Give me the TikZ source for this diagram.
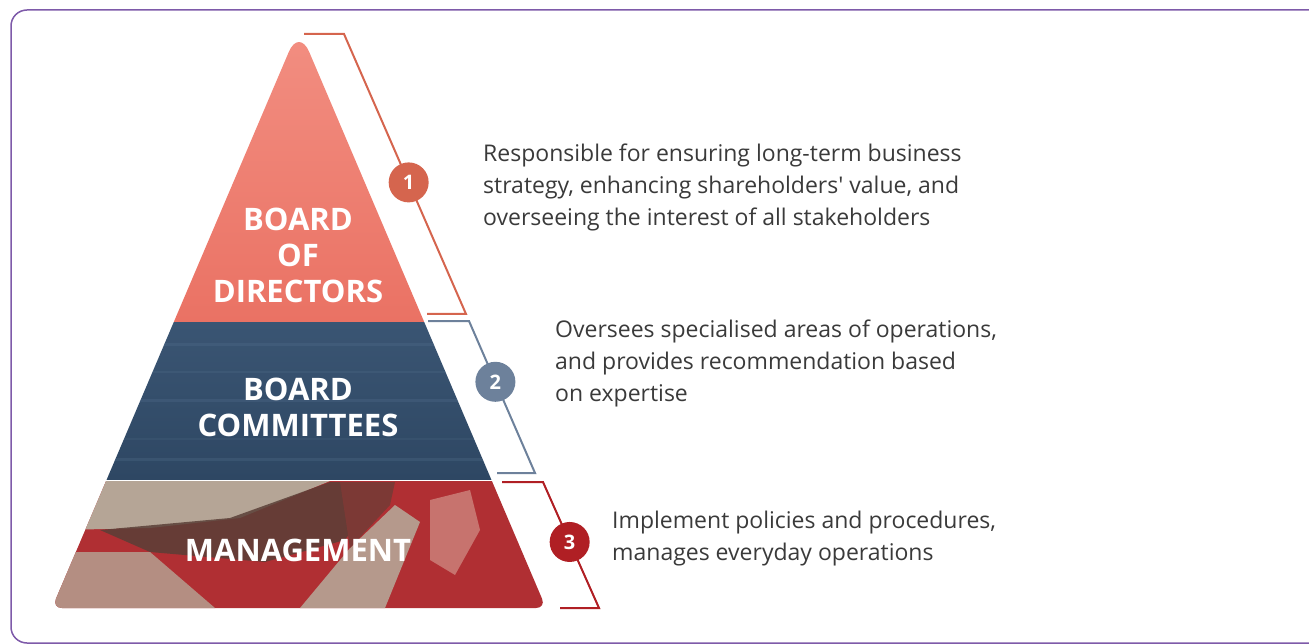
\documentclass[tikz,border=0pt]{standalone}
\usepackage{fontspec}
\setmainfont{Open Sans}
\newfontfamily\notefont{Open Sans}
\usetikzlibrary{positioning}

\definecolor{framepurple}{HTML}{7E5AA9}
\definecolor{bodtop}{HTML}{F39184}
\definecolor{bodbot}{HTML}{EA7264}
\definecolor{comtop}{HTML}{3A5573}
\definecolor{combot}{HTML}{2E4763}
\definecolor{comlight}{HTML}{5A7594}
\definecolor{mgtred}{HTML}{B02F33}
\definecolor{mgtbeige}{HTML}{B5A596}
\definecolor{mgtdark}{HTML}{5A3F37}
\definecolor{mgtpink}{HTML}{D29088}
\definecolor{onecol}{HTML}{D5654E}
\definecolor{twocol}{HTML}{6D819B}
\definecolor{threecol}{HTML}{B01F24}
\definecolor{notegrey}{HTML}{3A3A3A}

\tikzset{
  tier/.style={text=white, font=\fontsize{31}{36}\selectfont\bfseries, align=center, inner sep=0pt},
  badge/.style={circle, minimum size=40pt, inner sep=0pt, text=white, font=\fontsize{20}{20}\selectfont\bfseries},
  bracket/.style={line width=2pt},
  note/.style={text=notegrey, font=\notefont\fontsize{23}{32}\selectfont, align=left, anchor=west, inner sep=0pt},
}

\begin{document}
\begin{tikzpicture}[x=1pt,y=-1pt]
\useasboundingbox (0,0) rectangle (1309,644);

% outer frame
\begin{scope}
  \clip (0,0) rectangle (1309,644);
  \draw[framepurple, line width=1.5pt, rounded corners=16] (11,10) rectangle (1340,643);
\end{scope}

% pyramid
\begin{scope}
  \clip (299,608) [rounded corners=10] -- (52,608) [rounded corners=26] -- (299,28) [rounded corners=10] -- (546,608) -- cycle;
  \shade[top color=bodtop, bottom color=bodbot] (0,0) rectangle (600,321);
  \shade[top color=comtop, bottom color=combot] (0,322.5) rectangle (600,479);
  \fill[comlight, opacity=0.25] (0,343) rectangle (600,346);
  \fill[comlight, opacity=0.2] (0,371) rectangle (600,373);
  \fill[comlight, opacity=0.25] (0,399) rectangle (600,402);
  \fill[comlight, opacity=0.15] (0,438) rectangle (600,440);
  \fill[comlight, opacity=0.25] (0,458) rectangle (600,461);
  \fill[mgtred] (0,480.5) rectangle (600,620);
  \fill[mgtbeige] (60,481) -- (330,481) -- (240,518) -- (150,528) -- (60,530) -- cycle;
  \fill[mgtdark, opacity=0.85] (100,530) -- (230,518) -- (330,482) -- (385,482) -- (345,540) -- (265,562) -- (150,552) -- cycle;
  \fill[mgtbeige!80!mgtred] (40,552) -- (150,552) -- (215,608) -- (40,608) -- cycle;
  \fill[mgtbeige!90!mgtred] (300,608) -- (350,548) -- (395,505) -- (420,522) -- (385,608) -- cycle;
  \fill[mgtdark!60!mgtred] (340,482) -- (395,482) -- (390,505) -- (350,548) -- cycle;
  \fill[mgtpink, opacity=0.7] (430,500) -- (470,490) -- (480,530) -- (455,575) -- (430,560) -- cycle;
\end{scope}

% tier labels
\node[tier] (bod) at (298,255) {BOARD\\OF\\DIRECTORS};
\node[tier] (com) at (298,407) {BOARD\\COMMITTEES};
\node[tier] (mgt) at (298,550) {MANAGEMENT};

% brackets
\coordinate (b1a) at (304,34);
\coordinate (b1b) at (344,34);
\coordinate (b1c) at (466,314);
\coordinate (b1d) at (427,314);
\coordinate (b2a) at (428,321);
\coordinate (b2b) at (469,321);
\coordinate (b2c) at (535,473);
\coordinate (b2d) at (497,473);
\coordinate (b3a) at (502,482);
\coordinate (b3b) at (543,482);
\coordinate (b3c) at (599,608);
\coordinate (b3d) at (560,608);
\draw[bracket, onecol] (b1a) -- (b1b) -- (b1c) -- (b1d);
\draw[bracket, twocol] (b2a) -- (b2b) -- (b2c) -- (b2d);
\draw[bracket, threecol] (b3a) -- (b3b) -- (b3c) -- (b3d);
\path (b1b) -- (b1c) node[badge, fill=onecol, pos=0.53] (n1) {1};
\path (b2b) -- (b2c) node[badge, fill=twocol, pos=0.40] (n2) {2};
\path (b3b) -- (b3c) node[badge, fill=threecol, pos=0.476] (n3) {3};

% descriptions
\node[note] (d1) at (483,187) {Responsible for ensuring long-term business\\strategy, enhancing shareholders' value, and\\overseeing the interest of all stakeholders};
\node[note] (d2) at (555,363) {Oversees specialised areas of operations,\\and provides recommendation based\\on expertise};
\node[note] (d3) at (612,539) {Implement policies and procedures,\\manages everyday operations};
\end{tikzpicture}
\end{document}
